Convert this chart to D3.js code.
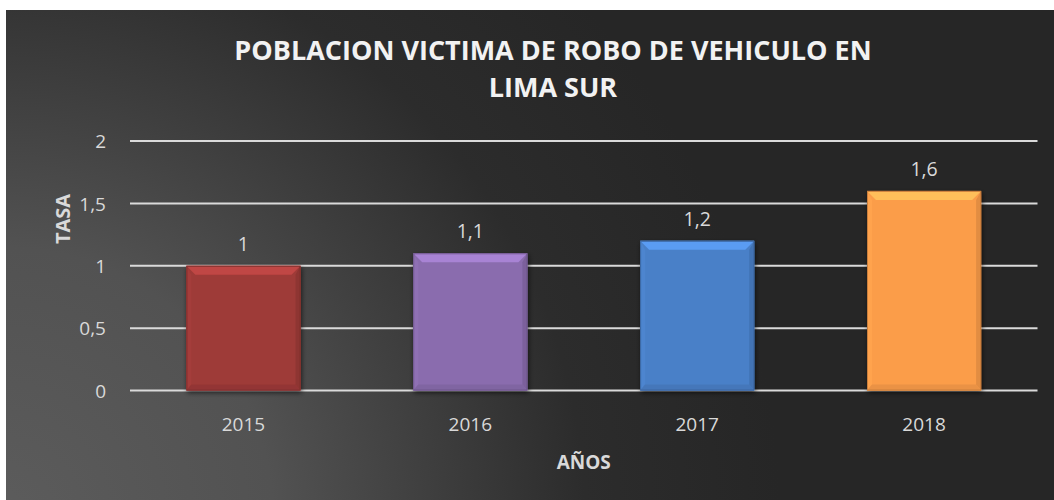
<!DOCTYPE html>
<html>
<head>
<meta charset="utf-8">
<script src="https://cdn.jsdelivr.net/npm/d3@7"></script>
<style>
  html, body { margin: 0; padding: 0; background: #ffffff; }
  svg { display: block; }
</style>
</head>
<body>
<svg id="chart" width="1054" height="500"></svg>
<script>
// Chart data
const years = ["2015", "2016", "2017", "2018"];
const rates = [1, 1.1, 1.2, 1.6];
const barColors = ["#9e3a38", "#8a6cae", "#4a80c8", "#fb9d4a"];
const yTicks = [0, 0.5, 1, 1.5, 2];
const titleLines = ["POBLACION VICTIMA DE ROBO DE VEHICULO EN", "LIMA SUR"];

const svg = d3.select("#chart");
const W = 1054, H = 500;
const fmt = v => String(v).replace(".", ",");
const FONT = "'Open Sans', sans-serif";

const defs = svg.append("defs");

// background: light at lower left, dark to upper right
const bg = defs.append("radialGradient").attr("id", "bgGrad")
  .attr("gradientUnits", "userSpaceOnUse")
  .attr("cx", 0).attr("cy", 520).attr("r", 780);
bg.append("stop").attr("offset", "0").attr("stop-color", "#5c5c5c");
bg.append("stop").attr("offset", "0.35").attr("stop-color", "#525252");
bg.append("stop").attr("offset", "0.75").attr("stop-color", "#2c2c2c");
bg.append("stop").attr("offset", "1").attr("stop-color", "#262626");

const shadow = defs.append("filter").attr("id", "barShadow")
  .attr("x", "-10%").attr("y", "-10%").attr("width", "130%").attr("height", "130%");
shadow.append("feGaussianBlur").attr("in", "SourceAlpha").attr("stdDeviation", 2.5);
shadow.append("feOffset").attr("dx", 1).attr("dy", 2).attr("result", "b");
shadow.append("feComponentTransfer").append("feFuncA").attr("type", "linear").attr("slope", 0.6);
const m = shadow.append("feMerge");
m.append("feMergeNode");
m.append("feMergeNode").attr("in", "SourceGraphic");

svg.append("rect").attr("x", 6).attr("y", 10).attr("width", W - 6).attr("height", H - 10)
  .attr("fill", "url(#bgGrad)");

const plot = { left: 130, right: 1037.5, top: 141, bottom: 390.5 };

const x = d3.scaleBand().domain(years).range([plot.left, plot.right])
  .paddingInner(0.497).paddingOuter(0.2485);
const y = d3.scaleLinear().domain([0, 2]).range([plot.bottom, plot.top]);

// gridlines
svg.append("g").selectAll("line").data(yTicks).join("line")
  .attr("x1", plot.left).attr("x2", plot.right)
  .attr("y1", d => y(d)).attr("y2", d => y(d))
  .attr("stroke", "#dadada").attr("stroke-width", 2);

// y tick labels
const yAxis = d3.axisLeft(y).tickValues(yTicks).tickFormat(fmt).tickSize(0).tickPadding(0);
const gy = svg.append("g").attr("transform", `translate(${plot.left - 24},0)`).call(yAxis);
gy.select(".domain").remove();
gy.selectAll("text").attr("fill", "#d9d9d9").attr("font-family", FONT)
  .attr("font-size", 19).attr("dy", "0.35em");

// x tick labels
const xAxis = d3.axisBottom(x).tickSize(0).tickPadding(0);
const gx = svg.append("g").attr("transform", `translate(0,${plot.bottom + 34})`).call(xAxis);
gx.select(".domain").remove();
gx.selectAll("text").attr("fill", "#d9d9d9").attr("font-family", FONT)
  .attr("font-size", 19).attr("dy", "0.35em");

// bars with bevelled edges
const bw = x.bandwidth();
const bev = 9;
const bars = svg.append("g").selectAll("g").data(rates).join("g")
  .attr("filter", "url(#barShadow)");
bars.each(function (v, i) {
  const g = d3.select(this);
  const x0 = x(years[i]), x1 = x0 + bw;
  const y0 = y(v), y1 = y(0);
  const c = d3.color(barColors[i]);
  g.append("rect").attr("x", x0).attr("y", y0).attr("width", bw).attr("height", y1 - y0)
    .attr("fill", c.formatHex());
  // top bevel (light)
  g.append("polygon").attr("points", [[x0, y0], [x1, y0], [x1 - bev, y0 + bev], [x0 + bev, y0 + bev]].join(" "))
    .attr("fill", c.brighter(0.55).formatHex());
  // left bevel
  g.append("polygon").attr("points", [[x0, y0], [x0 + 5, y0 + bev], [x0 + 5, y1 - 6], [x0, y1]].join(" "))
    .attr("fill", c.brighter(0.1).formatHex());
  // right bevel
  g.append("polygon").attr("points", [[x1, y0], [x1 - 5, y0 + bev], [x1 - 5, y1 - 6], [x1, y1]].join(" "))
    .attr("fill", c.darker(0.3).formatHex());
  // bottom bevel (dark)
  g.append("polygon").attr("points", [[x0, y1], [x1, y1], [x1 - 5, y1 - 6], [x0 + 5, y1 - 6]].join(" "))
    .attr("fill", c.darker(0.2).formatHex());
  g.append("rect").attr("x", x0 + 0.5).attr("y", y0 + 0.5).attr("width", bw - 1).attr("height", y1 - y0 - 1)
    .attr("fill", "none").attr("stroke", c.darker(0.6).formatHex()).attr("stroke-width", 1);
});

// value labels
svg.append("g").selectAll("text").data(rates).join("text")
  .attr("x", (d, i) => x(years[i]) + bw / 2)
  .attr("y", d => y(d) - 15)
  .attr("text-anchor", "middle")
  .attr("fill", "#d9d9d9").attr("font-family", FONT).attr("font-size", 19.5)
  .text(fmt);

// title
svg.append("g").selectAll("text").data(titleLines).join("text")
  .attr("x", 553).attr("y", (d, i) => 60 + i * 37)
  .attr("text-anchor", "middle")
  .attr("fill", "#f2f2f2").attr("font-family", FONT)
  .attr("font-weight", "bold").attr("font-size", 27)
  .text(d => d);

// axis titles
svg.append("text").attr("x", (plot.left + plot.right) / 2).attr("y", 469)
  .attr("text-anchor", "middle").attr("fill", "#d9d9d9")
  .attr("font-family", FONT).attr("font-weight", "bold").attr("font-size", 19)
  .text("AÑOS");

svg.append("text").attr("transform", "translate(69.5,219) rotate(-90)")
  .attr("text-anchor", "middle").attr("fill", "#d9d9d9")
  .attr("font-family", FONT).attr("font-weight", "bold").attr("font-size", 20)
  .text("TASA");
</script>
</body>
</html>
